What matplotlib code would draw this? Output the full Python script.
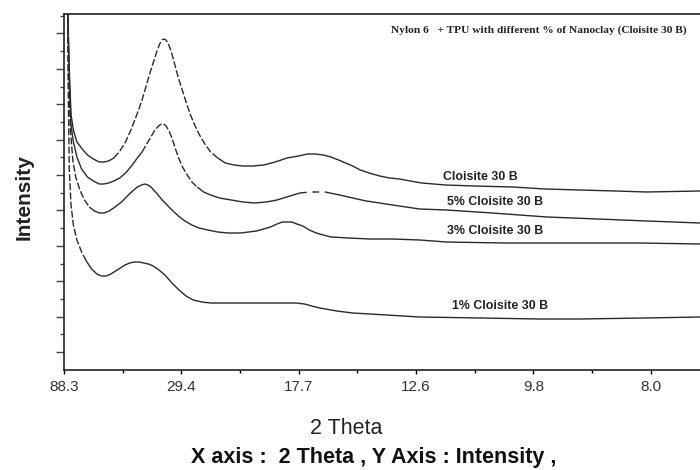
import numpy as np
import matplotlib
matplotlib.use("Agg")
import matplotlib.pyplot as plt

# ---- data (x in degrees 2-theta, y intensity in arbitrary units) ----
tick_pos = [1, 3, 5, 7, 9, 11]
tick_labels = ["88.3", "29.4", "17.7", "12.6", "9.8", "8.0"]

x_c30 = [1.06, 1.09, 1.12, 1.16, 1.22, 1.31, 1.40, 1.50, 1.60, 1.68, 1.76, 1.85, 1.94, 2.04, 2.14, 2.24, 2.33,
         2.40, 2.47, 2.53, 2.58, 2.63, 2.67, 2.70, 2.74, 2.78, 2.83, 2.89, 2.95, 3.01, 3.08, 3.15, 3.22, 3.30,
         3.40, 3.50, 3.62, 3.75, 3.90, 4.05, 4.22, 4.40, 4.60, 4.80, 5.00, 5.15, 5.28, 5.42, 5.55, 5.68,
         5.80, 5.92, 6.05, 6.20, 6.38, 6.55, 6.72, 6.90, 7.10, 7.50, 8.00, 8.65, 9.20, 9.79, 10.40, 10.93, 11.84]
y_c30 = [370, 300, 255, 240, 228, 221, 215, 211, 208, 208, 209, 212, 218, 227, 240, 255, 270,
         284, 298, 309, 318, 326, 330, 331, 330, 326, 318, 305, 292, 281, 268, 256, 246, 236,
         226, 218, 212, 207, 205, 204, 204, 205, 208, 212, 214, 216, 216, 215, 213, 210,
         207, 204, 200, 197, 194, 192, 191, 189, 187, 185, 184, 183, 181, 180, 179, 178, 179]

x_5 = [1.06, 1.09, 1.12, 1.16, 1.22, 1.30, 1.40, 1.50, 1.60, 1.68, 1.76, 1.85, 1.95, 2.05, 2.15, 2.25, 2.33,
       2.40, 2.47, 2.53, 2.58, 2.63, 2.67, 2.70, 2.74, 2.79, 2.84, 2.90, 2.96, 3.02, 3.10, 3.18, 3.27, 3.38,
       3.50, 3.65, 3.85, 4.05, 4.25, 4.45, 4.63, 4.85, 5.02, 5.20, 5.31, 5.45, 5.53, 5.70, 5.92, 6.15,
       6.38, 6.60, 7.06, 7.52, 8.30, 9.23, 10.10, 10.93, 11.84]
y_5 = [370, 290, 245, 228, 213, 201, 193, 189, 186, 186, 187, 189, 192, 197, 204, 212, 218,
       225, 232, 238, 242, 245, 246, 246, 244, 239, 232, 221, 211, 203, 195, 188, 183, 178,
       175, 172, 170, 168, 167, 168, 170, 174, 177, 178, 178, 178, 177, 175, 172, 169,
       167, 165, 161, 160, 157, 153, 151, 149, 147]

x_3 = [1.06, 1.08, 1.11, 1.15, 1.20, 1.27, 1.35, 1.43, 1.52, 1.60, 1.68, 1.77, 1.87, 1.98, 2.08, 2.17, 2.25,
       2.32, 2.38, 2.43, 2.48, 2.53, 2.59, 2.66, 2.74, 2.84, 2.95, 3.06, 3.18, 3.30, 3.45, 3.62, 3.80, 4.00,
       4.15, 4.28, 4.40, 4.52, 4.63, 4.72, 4.80, 4.88, 4.97, 5.07, 5.18, 5.30, 5.42, 5.55, 5.85, 6.21,
       6.60, 7.06, 7.52, 8.50, 9.79, 10.80, 11.84]
y_3 = [370, 290, 240, 210, 193, 180, 170, 163, 159, 157, 157, 159, 163, 168, 174, 179, 183,
       185, 186, 185, 183, 180, 176, 171, 166, 160, 154, 149, 145, 142, 140, 138, 137, 137,
       138, 139, 141, 143, 146, 148, 148, 148, 146, 144, 140, 137, 135, 133, 132, 131,
       131, 130, 128, 127, 127, 127, 126]

x_1 = [1.06, 1.07, 1.09, 1.12, 1.16, 1.22, 1.30, 1.38, 1.47, 1.56, 1.64, 1.72, 1.80, 1.88, 1.96, 2.04, 2.12,
       2.20, 2.28, 2.36, 2.44, 2.52, 2.62, 2.72, 2.84, 2.96, 3.08, 3.20, 3.35, 3.50, 3.69, 4.20, 4.63, 4.95,
       5.10, 5.22, 5.36, 5.65, 5.92, 6.50, 7.06, 8.09, 9.10, 9.79, 10.90, 11.84]
y_1 = [370, 290, 200, 165, 145, 130, 118, 109, 101, 96, 94, 94, 96, 99, 102, 105, 107,
       108, 108, 107, 106, 104, 100, 95, 87, 80, 74, 70, 68, 67, 67, 67, 67, 67,
       66, 64, 62, 59, 57, 55, 53, 52, 51, 51, 52, 53]

series_names = ["Cloisite 30 B", "5% Cloisite 30 B", "3% Cloisite 30 B", "1% Cloisite 30 B"]
# 2-theta ranges where the printed trace appears dashed
dashed_ranges = [[(1.85, 3.62)], [(2.33, 3.27), (5.02, 5.53)], [(1.06, 1.43)], [(1.06, 1.38)]]

# ---- figure ----
W, H = 700, 470
fig = plt.figure(figsize=(7.0, 4.7), dpi=100)
ax = fig.add_axes([64 / W, (H - 370) / H, (W - 64) / W, (370 - 14) / H])

line_col = "#2a2a2a"


def draw(x, y, ranges):
    x = np.asarray(x, float)
    y = np.asarray(y, float)
    bounds = sorted(set([b for r in ranges for b in r]))
    cuts = [0]
    for b in bounds:
        i = int(np.argmin(np.abs(x - b)))
        if i not in cuts:
            cuts.append(i)
    cuts.append(len(x) - 1)
    cuts = sorted(set(cuts))
    for a, b in zip(cuts[:-1], cuts[1:]):
        xm = 0.5 * (x[a] + x[b])
        dashed = any(r0 - 1e-9 <= xm <= r1 + 1e-9 for r0, r1 in ranges)
        ls = (0, (5, 1.6)) if dashed else "-"
        if dashed and len(ranges) > 1 and xm > 4.5:
            ls = (0, (5, 4))
        ax.plot(x[a:b + 1], y[a:b + 1], color=line_col, lw=1.0, ls=ls,
                solid_capstyle="butt", solid_joinstyle="round")


for xs, ys, rg in zip([x_c30, x_5, x_3, x_1], [y_c30, y_5, y_3, y_1], dashed_ranges):
    draw(xs, ys, rg)

ax.set_xlim(1.0, 11.84)
ax.set_ylim(0, 356)

ax.set_xticks(tick_pos)
ax.set_xticklabels(tick_labels, fontsize=11, family="Liberation Sans", color="#333333")
ax.set_xticks([2, 4, 6, 8, 10], minor=True)
ax.tick_params(axis="x", which="major", direction="out", length=3, width=1, pad=4)
ax.tick_params(axis="x", which="minor", direction="out", length=2, width=1)

ax.set_yticks(np.arange(18, 356, 35.4))
ax.set_yticks(np.arange(18 + 17.7, 356, 35.4), minor=True)
ax.set_yticklabels([])
ax.tick_params(axis="y", which="major", direction="out", length=6, width=1, color="#444444")
ax.tick_params(axis="y", which="minor", direction="out", length=3, width=1, color="#444444")

for s in ["left", "bottom", "top"]:
    ax.spines[s].set_linewidth(1.2)
    ax.spines[s].set_color("#222222")
ax.spines["right"].set_visible(False)

# curve labels
label_pos = [(443, 177), (447, 202), (447, 231), (452, 306)]
for name, (px, py) in zip(series_names, label_pos):
    fig.text(px / W, 1 - py / H, name, fontsize=8.9, fontweight="bold",
             family="Liberation Sans", color="#222222", ha="left", va="center")

fig.text(391 / W, 1 - 30 / H, "Nylon 6   + TPU with different % of Nanoclay (Cloisite 30 B)",
         fontsize=8.2, fontweight="bold", family="Liberation Serif", color="#222222",
         ha="left", va="center")

fig.text(24 / W, 1 - 197 / H, "Intensity", rotation=90, fontsize=15, fontweight="bold",
         family="Liberation Sans", color="#222222", ha="center", va="center")
fig.text(346 / W, 1 - 428 / H, "2 Theta", fontsize=15.5, family="Liberation Sans",
         color="#222222", ha="center", va="center")
fig.text(374 / W, 1 - 457 / H, "X axis :  2 Theta , Y Axis : Intensity ,", fontsize=15.5,
         fontweight="bold", family="Liberation Sans", color="#111111", ha="center", va="center")

fig.savefig("out.png", dpi=100)
